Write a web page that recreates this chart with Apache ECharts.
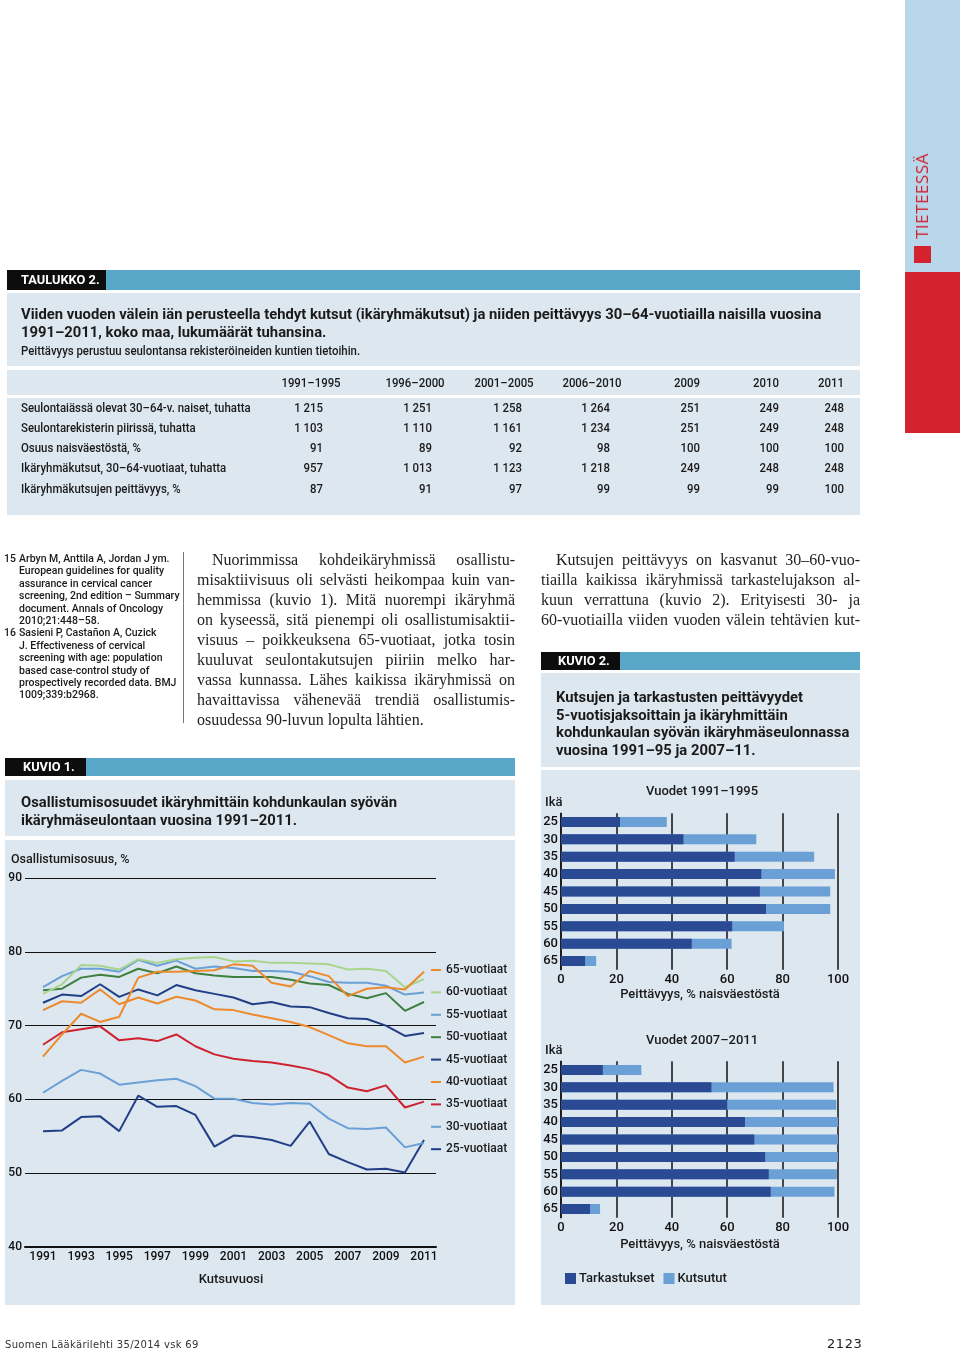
<!DOCTYPE html>
<html><head><meta charset="utf-8">
<script src="https://cdn.jsdelivr.net/npm/echarts@6/dist/echarts.min.js"></script>
<style>
body{margin:0;background:#fff;width:960px;height:1351px;position:relative;overflow:hidden;font-family:Roboto,"Liberation Sans",sans-serif;color:#1a1a1a}
.r{position:absolute;z-index:0}
.t{position:absolute;z-index:2;white-space:nowrap;line-height:20px;height:20px;font-weight:500}
.j{position:absolute;z-index:2;white-space:nowrap;line-height:20px;height:20px;text-align:justify;text-align-last:justify;font-family:"Liberation Serif","DejaVu Serif",serif;font-size:16px;color:#222}
#chart{position:absolute;left:0;top:0;width:960px;height:1351px;z-index:1}
</style></head><body>
<div id="chart"></div>
<script>
// ---------- data ----------
const years = [1991,1992,1993,1994,1995,1996,1997,1998,1999,2000,2001,2002,2003,2004,2005,2006,2007,2008,2009,2010,2011];
const xTickYears = [1991,1993,1995,1997,1999,2001,2003,2005,2007,2009,2011];
const age25 = [55.7,55.8,57.6,57.7,55.7,60.5,59.0,59.1,57.9,53.6,55.1,54.9,54.5,53.7,57.0,52.6,51.5,50.5,50.6,50.1,54.5];
const age30 = [60.9,62.5,64.0,63.5,62.0,62.3,62.6,62.8,61.8,60.1,60.1,59.5,59.3,59.5,59.4,57.4,56.1,56.0,56.2,53.5,54.1];
const age35 = [67.4,69.1,69.5,69.9,68.0,68.3,67.9,68.8,67.2,66.1,65.5,65.2,65.0,64.6,64.1,63.3,61.6,61.1,61.9,58.9,59.7];
const age40 = [72.1,73.3,73.1,74.9,72.9,73.8,73.0,73.9,73.4,72.2,72.1,71.5,71.0,70.5,69.8,68.7,67.6,67.2,67.2,65.0,65.8];
const age45 = [73.1,74.2,74.0,75.6,73.9,74.9,74.1,75.5,74.8,74.3,73.8,72.9,73.2,72.6,72.5,71.7,71.0,70.9,70.0,68.6,69.0];
const age50 = [74.8,75.0,76.5,76.9,76.6,77.7,77.1,78.0,77.1,76.8,76.6,76.6,76.6,76.2,75.7,75.5,74.3,73.7,74.4,72.0,73.2];
const age55 = [75.2,76.7,77.7,77.7,77.3,78.9,78.1,78.8,77.7,78.0,77.8,77.4,77.4,77.3,76.7,75.9,75.8,75.8,75.4,74.2,74.5];
const age60 = [74.3,75.6,78.2,78.1,77.6,79.0,78.5,79.0,79.2,79.3,78.7,78.8,78.5,78.5,78.4,78.3,77.6,77.7,77.4,75.2,76.3];
const age65 = [65.8,68.8,71.6,70.5,71.2,76.5,77.3,77.3,77.4,77.5,78.3,78.1,75.8,75.3,77.4,76.7,74.0,75.0,75.2,74.9,77.3];
const lineNames = ['65-vuotiaat','60-vuotiaat','55-vuotiaat','50-vuotiaat','45-vuotiaat','40-vuotiaat','35-vuotiaat','30-vuotiaat','25-vuotiaat'];

const ageGroups = ['25','30','35','40','45','50','55','60','65'];
const exam9195 = [21.3,44.2,62.7,72.3,71.8,74.0,61.8,47.2,8.7];
const invite9195 = [38.2,70.5,91.4,98.9,97.2,97.2,80.5,61.6,12.7];
const exam0711 = [15.1,54.3,60.0,66.4,69.8,73.7,75.0,75.7,10.5];
const invite0711 = [29.0,98.4,99.4,100,100,100,99.6,98.7,14.1];

const tableCols = ['1991–1995','1996–2000','2001–2005','2006–2010','2009','2010','2011'];
const tableRowLabels = ['Seulontaiässä olevat 30–64-v. naiset, tuhatta','Seulontarekisterin piirissä, tuhatta','Osuus naisväestöstä, %','Ikäryhmäkutsut, 30–64-vuotiaat, tuhatta','Ikäryhmäkutsujen peittävyys, %'];
const tableRows = [
 ['1 215','1 251','1 258','1 264','251','249','248'],
 ['1 103','1 110','1 161','1 234','251','249','248'],
 ['91','89','92','98','100','100','100'],
 ['957','1 013','1 123','1 218','249','248','248'],
 ['87','91','97','99','99','99','100']
];

// ---------- page helpers ----------
const scaled=[];
function R(x,y,w,h,c){const d=document.createElement('div');d.className='r';Object.assign(d.style,{left:x+'px',top:y+'px',width:w+'px',height:h+'px',background:c});document.body.appendChild(d);return d;}
function T(x,y,txt,css,align,kind){const d=document.createElement('div');d.className='t';d.textContent=txt;d.style.left=x+'px';d.style.top=(y-10)+'px';if(css)Object.assign(d.style,css);
 document.body.appendChild(d);scaled.push({d,align:align||'left',kind:kind||'reg'});return d;}
function J(x,y,w,txt,last){const d=document.createElement('div');d.className='j';d.textContent=txt;d.style.left=x+'px';d.style.top=(y-10)+'px';d.style.width=w+'px';if(last)d.style.textAlignLast='left';document.body.appendChild(d);return d;}

const PANEL='#dde7f0', BAR='#58a6c8';
// right strip
R(905,0,55,272,'#b8d7ea');
R(905,272,55,161,'#d3232e');
R(914,246,17,17,'#d3232e');
const tv=document.createElement('div');tv.className='t';tv.textContent='TIETEESSÄ';
Object.assign(tv.style,{left:'922px',top:'186px',fontFamily:'"Open Sans","DejaVu Sans",sans-serif',fontSize:'17px',fontWeight:'400',color:'#cf2230',letterSpacing:'0.5px',transform:'translate(-50%,0) rotate(-90deg)',transformOrigin:'50% 50%'});
document.body.appendChild(tv);

// table
R(7,270,99,20,'#0d0d0d'); R(106,270,754,20,BAR);
T(21,280,'TAULUKKO 2.',{color:'#fff',fontSize:'13px',fontWeight:'bold'},'left','bold');
R(7,293,853,73,PANEL);
const titleEl=T(21,314,'Viiden vuoden välein iän perusteella tehdyt kutsut (ikäryhmäkutsut) ja niiden peittävyys 30–64-vuotiailla naisilla vuosina',{fontSize:'15px',fontWeight:'bold'},'left','bold');
T(21,332,'1991–2011, koko maa, lukumäärät tuhansina.',{fontSize:'15px',fontWeight:'bold'},'left','bold');
T(21,351,'Peittävyys perustuu seulontansa rekisteröineiden kuntien tietoihin.',{fontSize:'12.5px'});
R(7,370,853,25,PANEL); R(7,398,853,117,PANEL);
const colCenters=[311,415,504,592,690,768,833];
const colRights=[323,432,522,610,700,779,844];
tableCols.forEach((c,i)=>{ if(i<4) T(colCenters[i],383,c,{fontSize:'12.5px'},'center'); else T(colRights[i],383,c,{fontSize:'12.5px'},'right');});
const rowY=[408,428,448,468,489];
let refEl=null;
tableRowLabels.forEach((l,r)=>{const e=T(21,rowY[r],l,{fontSize:'12.5px'});if(r===0)refEl=e;tableRows[r].forEach((v,i)=>T(colRights[i],rowY[r],v,{fontSize:'12.5px'},'right'));});

// footnotes
const fn=['Arbyn M, Anttila A, Jordan J ym.','European guidelines for quality','assurance in cervical cancer','screening, 2nd edition – Summary','document. Annals of Oncology','2010;21:448–58.','Sasieni P, Castañon A, Cuzick','J. Effectiveness of cervical','screening with age: population','based case-control study of','prospectively recorded data. BMJ','1009;339:b2968.'];
const fcss=y=>({fontSize:'11.5px',lineHeight:'12px',height:'12px',top:(y-6)+'px'});
fn.forEach((l,i)=>{const y=558+i*12.4;T(18.5,y,l,fcss(y));});
T(4,558,'15',fcss(558));
T(4,558+6*12.4,'16',fcss(558+6*12.4));
R(183,552,1,171,'#777');

// body text columns
const col2=['Nuorimmissa kohdeikäryhmissä osallistu-','misaktiivisuus oli selvästi heikompaa kuin van-','hemmissa (kuvio 1). Mitä nuorempi ikäryhmä','on kyseessä, sitä pienempi oli osallistumisaktii-','visuus – poikkeuksena 65-vuotiaat, jotka tosin','kuuluvat seulontakutsujen piiriin melko har-','vassa kunnassa. Lähes kaikissa ikäryhmissä on','havaittavissa vähenevää trendiä osallistumis-','osuudessa 90-luvun lopulta lähtien.'];
col2.forEach((l,i)=>{ if(i===0) J(212,560,303,l); else J(197,560+i*20,318,l,i===col2.length-1);});
const col3=['Kutsujen peittävyys on kasvanut 30–60-vuo-','tiailla kaikissa ikäryhmissä tarkastelujakson al-','kuun verrattuna (kuvio 2). Erityisesti 30- ja','60-vuotiailla viiden vuoden välein tehtävien kut-'];
col3.forEach((l,i)=>{ if(i===0) J(556,560,304,l); else J(541,560+i*20,319,l);});

// KUVIO 2 header
R(541,652,79,18,'#0d0d0d'); R(620,652,240,18,BAR);
T(558,661,'KUVIO 2.',{color:'#fff',fontSize:'13px',fontWeight:'bold'},'left','bold');
R(541,673,319,94,PANEL);
['Kutsujen ja tarkastusten peittävyydet','5-vuotisjaksoittain ja ikäryhmittäin','kohdunkaulan syövän ikäryhmäseulonnassa','vuosina 1991–95 ja 2007–11.'].forEach((l,i)=>T(556,697+i*17.7,l,{fontSize:'15px',fontWeight:'bold'},'left','bold'));
R(541,770,319,535,PANEL);

// KUVIO 1 header
R(5,758,81,18,'#0d0d0d'); R(86,758,429,18,BAR);
T(23,767,'KUVIO 1.',{color:'#fff',fontSize:'13px',fontWeight:'bold'},'left','bold');
R(5,780,510,56,PANEL);
T(21,802,'Osallistumisosuudet ikäryhmittäin kohdunkaulan syövän',{fontSize:'15px',fontWeight:'bold'},'left','bold');
T(21,820,'ikäryhmäseulontaan vuosina 1991–2011.',{fontSize:'15px',fontWeight:'bold'},'left','bold');
R(5,840,510,465,PANEL);

// condensed look: horizontal scale computed from reference line widths
const fReg=230/refEl.offsetWidth, fBold=801/titleEl.offsetWidth;
scaled.forEach(({d,align,kind})=>{
 const f=kind==='bold'?fBold:fReg;
 if(align==='right'){d.style.transformOrigin='right center';d.style.transform='translateX(-100%) scaleX('+f+')';}
 else if(align==='center'){d.style.transformOrigin='center center';d.style.transform='translateX(-50%) scaleX('+f+')';}
 else {d.style.transformOrigin='left center';d.style.transform='scaleX('+f+')';}
});

// footer
const ft=document.createElement('div');ft.className='t';ft.textContent='Suomen Lääkärilehti 35/2014 vsk 69';
Object.assign(ft.style,{left:'5px',top:'1335px',fontFamily:'"DejaVu Sans",sans-serif',fontSize:'10px',fontWeight:'400',color:'#333',letterSpacing:'0.3px'});document.body.appendChild(ft);
const pg=document.createElement('div');pg.className='t';pg.textContent='2123';
Object.assign(pg.style,{left:'827px',top:'1334px',fontFamily:'"DejaVu Sans",sans-serif',fontSize:'13px',fontWeight:'400',color:'#222',letterSpacing:'0.6px'});document.body.appendChild(pg);

// ---------- chart ----------
const FF='Roboto,"Liberation Sans",sans-serif';
const NAVY='#223e86', LBLUE='#6aa0d6', RED='#cf2231', ORANGE='#ec8a2c', GREEN='#3f7f3f', LGREEN='#a8d48c';
const lineDefs=[
 ['25-vuotiaat',age25,NAVY],['30-vuotiaat',age30,LBLUE],['35-vuotiaat',age35,RED],['40-vuotiaat',age40,ORANGE],
 ['45-vuotiaat',age45,NAVY],['50-vuotiaat',age50,GREEN],['55-vuotiaat',age55,LBLUE],['60-vuotiaat',age60,LGREEN],['65-vuotiaat',age65,ORANGE]
];
const series=lineDefs.map(([n,vals,c])=>({
 name:n,type:'line',xAxisIndex:0,yAxisIndex:0,symbol:'none',smooth:false,
 data:years.map((y,i)=>[y,vals[i]]),lineStyle:{color:c,width:2},itemStyle:{color:c}
}));
const TCOL='#2a4a94';
[[1,invite9195,exam9195],[2,invite0711,exam0711]].forEach(([g,inv,ex])=>{
 series.push({name:'Kutsutut',type:'bar',xAxisIndex:g,yAxisIndex:g,data:inv,barWidth:10,itemStyle:{color:LBLUE},barGap:'-100%'});
 series.push({name:'Tarkastukset',type:'bar',xAxisIndex:g,yAxisIndex:g,data:ex,barWidth:10,itemStyle:{color:TCOL},barGap:'-100%'});
});
const LBL={color:'#111',fontFamily:FF,fontWeight:500};
const barX=g=>({gridIndex:g,type:'value',min:0,max:100,interval:20,splitLine:{show:true,lineStyle:{color:'#111',width:1.5}},axisLine:{show:false},axisTick:{show:false},axisLabel:Object.assign({fontSize:13,margin:4},LBL)});
const barY=g=>({gridIndex:g,type:'category',data:ageGroups,inverse:true,axisLine:{show:true,lineStyle:{color:'#111',width:1.5}},axisTick:{show:false},splitLine:{show:false},axisLabel:Object.assign({fontSize:13,margin:3},LBL)});
const txt=(x,y,s,align,size)=>({type:'text',x:x,y:y,z:10,style:{text:s,fill:'#1a1a1a',font:'500 '+(size||13)+'px '+FF,align:align||'left',verticalAlign:'middle'}});
const option={
 backgroundColor:'transparent',animation:false,textStyle:{fontFamily:FF},
 grid:[{left:25,top:878,width:411,height:369},{left:561,top:813.3,width:277,height:156.4},{left:561,top:1061.3,width:277,height:156.4}],
 xAxis:[
  {gridIndex:0,type:'value',min:1990.055,max:2011.63,splitLine:{show:false},axisLine:{show:true,lineStyle:{color:'#111',width:2}},axisTick:{show:false},
   axisLabel:Object.assign({customValues:xTickYears,formatter:v=>String(v),fontSize:12,margin:4},LBL)},
  barX(1),barX(2)
 ],
 yAxis:[
  {gridIndex:0,type:'value',min:40,max:90,interval:10,splitLine:{show:true,lineStyle:{color:'#111',width:1}},axisLine:{show:false},axisTick:{show:false},axisLabel:Object.assign({fontSize:12,margin:3},LBL)},
  barY(1),barY(2)
 ],
 legend:[
  {data:lineNames,orient:'vertical',left:431,top:963,padding:0,icon:'rect',itemWidth:10,itemHeight:2,itemGap:8.4,textStyle:{fontSize:12,color:'#1a1a1a',lineHeight:14,fontFamily:FF,fontWeight:500},selectedMode:false},
  {data:['Tarkastukset','Kutsutut'],orient:'horizontal',left:565,top:1272,padding:0,icon:'rect',itemWidth:11,itemHeight:11,itemGap:9,textStyle:{fontSize:13,color:'#1a1a1a',fontFamily:FF,fontWeight:500,padding:[0,0,0,-2]},selectedMode:false}
 ],
 series:series,
 graphic:[
  txt(11,860,'Osallistumisosuus, %','left',12.5),
  txt(231,1280,'Kutsuvuosi','center',13),
  txt(702,792,'Vuodet 1991–1995','center',13),
  txt(545,803,'Ikä','left',13),
  txt(700,995,'Peittävyys, % naisväestöstä','center',13),
  txt(702,1041,'Vuodet 2007–2011','center',13),
  txt(545,1051,'Ikä','left',13),
  txt(700,1245,'Peittävyys, % naisväestöstä','center',13)
 ]
};
const chart=echarts.init(document.getElementById('chart'),null,{renderer:'canvas'});
chart.setOption(option);
</script></body></html>
